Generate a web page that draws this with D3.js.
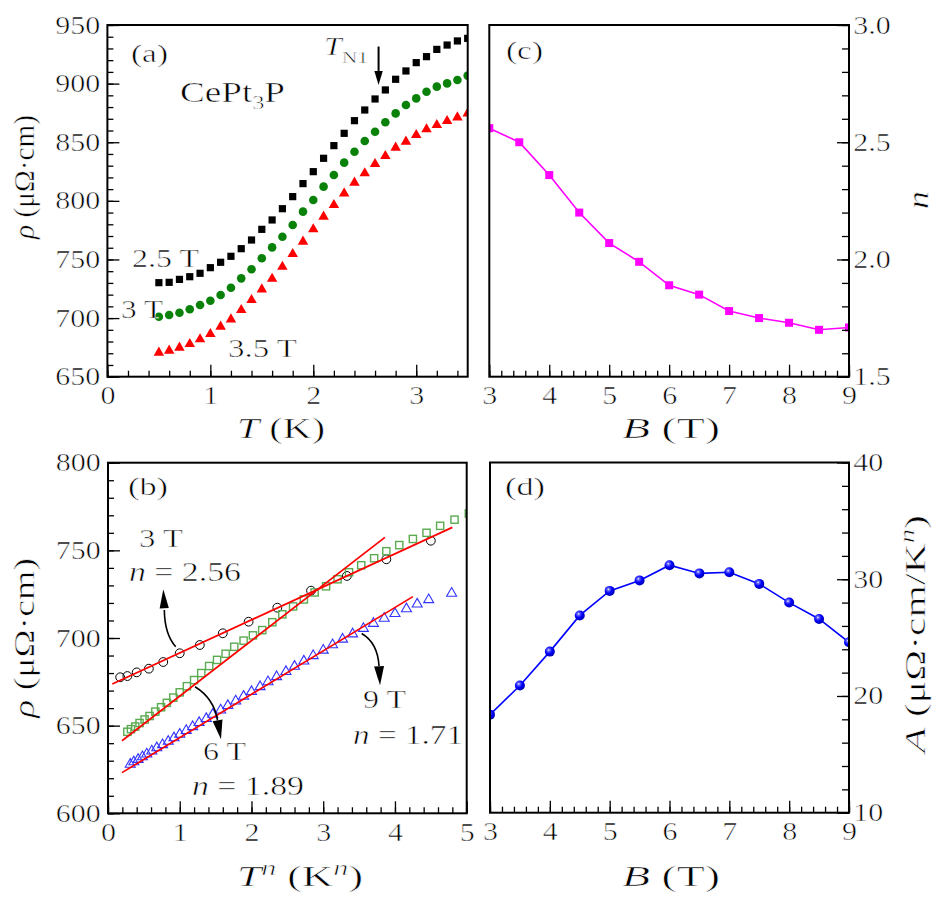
<!DOCTYPE html>
<html><head><meta charset="utf-8">
<script src="https://cdn.jsdelivr.net/npm/d3@7"></script>
<style>
body{margin:0;background:#fff}
svg{display:block}
text{font-family:'Liberation Serif','Times New Roman',serif;font-weight:400;fill:#000;stroke:#fff;stroke-width:0.55px}
</style>
</head><body><script>
// ---------------- DATA ----------------
// (a) rho vs T at 2.5, 3, 3.5 T
const tempA = [0.5,0.6,0.7,0.8,0.9,1.0,1.1,1.2,1.3,1.4,1.5,1.6,1.7,1.8,1.9,2.0,2.1,2.2,2.3,2.4,2.5,2.6,2.7,2.8,2.9,3.0,3.1,3.2,3.3,3.4,3.5];
const rho25T = [730.2,730.5,733.0,735.3,738.2,743.0,747.6,752.7,759.2,766.6,775.7,783.7,793.3,803.6,814.7,824.9,836.3,847.1,857.6,868.4,877.5,886.9,894.6,903.7,910.8,917.9,923.0,929.2,932.9,936.4,938.6];
const rho3T = [701.2,702.6,704.6,707.5,711.1,714.8,719.7,725.9,733.9,741.6,751.0,760.3,769.4,779.4,790.8,800.7,812.1,822.0,832.6,841.9,851.0,859.0,867.0,874.6,881.8,887.4,893.1,897.4,900.2,903.1,906.8];
const rho35T = [670.5,672.2,674.8,677.9,681.9,686.4,692.7,698.9,706.9,715.4,724.5,733.6,743.8,754.7,765.2,775.7,786.5,796.5,806.4,815.5,823.5,831.4,838.3,845.4,850.5,856.2,861.0,864.7,868.1,871.2,874.6];

// (b) rho vs T^n
const tn3 = [0.17,0.27,0.40,0.57,0.77,1.00,1.28,1.60,1.96,2.36,2.83,3.33,3.88,4.50];
const rhoN3 = [677.6,678.3,680.4,682.5,686.3,691.3,696.0,702.7,709.3,717.3,727.0,735.4,744.9,755.5];
const tn6 = [0.27,0.32,0.38,0.44,0.51,0.58,0.66,0.74,0.82,0.91,1.00,1.10,1.20,1.30,1.41,1.52,1.64,1.76,1.89,2.02,2.15,2.29,2.43,2.58,2.73,2.88,3.04,3.20,3.36,3.53,3.71,3.88,4.06,4.25,4.44,4.63,4.83,5.03];
const rhoN6 = [646.5,648.0,649.5,651.5,653.5,655.5,658.0,660.5,663.0,666.0,669.0,672.5,676.0,680.0,684.0,687.5,691.0,695.0,698.5,701.5,704.5,709.0,713.5,718.0,722.0,726.0,729.5,733.5,737.5,741.5,745.5,749.5,753.0,756.5,760.0,764.0,767.5,771.0];
const tn9 = [0.31,0.36,0.42,0.48,0.54,0.61,0.68,0.76,0.84,0.92,1.00,1.09,1.18,1.27,1.37,1.46,1.57,1.67,1.78,1.89,2.00,2.12,2.23,2.35,2.48,2.60,2.73,2.86,3.00,3.13,3.27,3.41,3.56,3.70,3.85,4.00,4.16,4.31,4.47,4.79,5.12];
const rhoN9 = [627.9,629.3,630.7,632.2,633.8,635.5,637.3,639.1,641.0,643.0,645.0,647.2,649.4,651.7,654.0,656.4,658.9,661.4,664.0,666.7,669.4,672.2,675.0,677.9,680.8,683.8,686.8,689.9,693.0,696.1,699.3,702.3,705.4,708.3,711.2,713.9,716.6,719.3,721.8,725.5,728.5];
const fitX3 = [0.06,4.80], fitY3 = [673.8,763.1];
const fitX6 = [0.195,3.86], fitY6 = [641.4,757.4];
const fitX9 = [0.195,4.25], fitY9 = [623.2,723.6];

// (c), (d) vs field
const fieldB = [3,3.5,4,4.5,5,5.5,6,6.5,7,7.5,8,8.5,9];
const nExp = [2.56,2.50,2.36,2.20,2.07,1.99,1.89,1.85,1.78,1.75,1.73,1.70,1.71];
const coefA = [18.4,20.9,23.8,26.9,29.0,29.9,31.2,30.5,30.6,29.6,28.0,26.6,24.6];

// tick labels
const ticksTa = [0,1,2,3], ticksRhoA = [650,700,750,800,850,900,950];
const ticksTn = [0,1,2,3,4,5], ticksRhoB = [600,650,700,750,800];
const ticksB = [3,4,5,6,7,8,9], ticksN = [1.5,2.0,2.5,3.0], ticksA = [10,20,30,40];

// ---------------- SETUP ----------------
const W = 946, H = 905;
const svg = d3.select('body').append('svg').attr('width', W).attr('height', H);
const defs = svg.append('defs');
const grad = defs.append('radialGradient').attr('id','ballBlue').attr('cx','38%').attr('cy','35%').attr('r','65%');
grad.append('stop').attr('offset','0%').attr('stop-color','#ffffff');
grad.append('stop').attr('offset','18%').attr('stop-color','#6a6aff');
grad.append('stop').attr('offset','55%').attr('stop-color','#0000ff');
grad.append('stop').attr('offset','100%').attr('stop-color','#0000b4');

const TSCALE = 1.2;
function addText(parent, o) {
  const rot = o.rotate ? ` rotate(${o.rotate})` : '';
  const t = parent.append('text').attr('font-size', o.size || 25).attr('text-anchor', o.anchor || 'start')
    .attr('transform', `translate(${o.x},${o.y})${rot} scale(${TSCALE},1)`);
  let shift = 0;
  o.parts.forEach(p => {
    const s = t.append('tspan').text(p.t);
    if (p.it) s.attr('font-style', 'italic');
    if (p.size) s.attr('font-size', p.size);
    const want = p.dy || 0;
    s.attr('dy', want - shift); shift = want;
    if (p.dx) s.attr('dx', p.dx);
  });
  if (o.len) t.attr('textLength', o.len / TSCALE).attr('lengthAdjust', 'spacingAndGlyphs');
  return t;
}

function makePanel(id, P, xd, yd) {
  const x = d3.scaleLinear().domain(xd).range([P.x0, P.x1]);
  const y = d3.scaleLinear().domain(yd).range([P.y1, P.y0]);
  defs.append('clipPath').attr('id', 'clip' + id).append('rect')
    .attr('x', P.x0).attr('y', P.y0).attr('width', P.x1 - P.x0).attr('height', P.y1 - P.y0);
  const g = svg.append('g');
  const data = g.append('g').attr('clip-path', `url(#clip${id})`);
  return {x, y, g, data, P};
}

function styleTicks(sel) {
  sel.select('.domain').remove();
  sel.selectAll('line').attr('stroke', '#000').attr('stroke-width', 1.3);
  sel.selectAll('text').attr('font-size', 25).attr('fill', '#000')
    .attr('transform', `scale(${TSCALE},1)`);
}

function axes(p, o) {
  const {x, y, g, P} = p;
  const bx = g.append('g').attr('transform', `translate(0,${P.y1})`);
  bx.append('g').call(d3.axisBottom(x).tickValues(o.xMinor).tickSize(-6).tickFormat('')).call(styleTicks);
  bx.append('g').call(d3.axisBottom(x).tickValues(o.xMajor).tickSize(-12).tickPadding(10).tickFormat(o.xFmt)).call(styleTicks);
  if (o.side === 'left') {
    const ly = g.append('g').attr('transform', `translate(${P.x0},0)`);
    ly.append('g').call(d3.axisLeft(y).tickValues(o.yMinor).tickSize(-6).tickFormat('')).call(styleTicks);
    ly.append('g').call(d3.axisLeft(y).tickValues(o.yMajor).tickSize(-12).tickPadding(6).tickFormat(o.yFmt)).call(styleTicks);
  } else {
    const ry = g.append('g').attr('transform', `translate(${P.x1},0)`);
    ry.append('g').call(d3.axisRight(y).tickValues(o.yMinor).tickSize(-7).tickFormat('')).call(styleTicks);
    ry.append('g').call(d3.axisRight(y).tickValues(o.yMajor).tickSize(-12).tickPadding(3.6).tickFormat(o.yFmt)).call(styleTicks);
  }
  g.append('rect').attr('x', P.x0).attr('y', P.y0).attr('width', P.x1 - P.x0).attr('height', P.y1 - P.y0)
    .attr('fill', 'none').attr('stroke', '#000').attr('stroke-width', 2);
}

function triPath(s) { const h = s * Math.sqrt(3) / 2; return `M0,${-2*h/3}L${s/2},${h/3}L${-s/2},${h/3}Z`; }

function arrow(g, pts, tip, hw, hl) {
  g.append('path').attr('d', `M${pts[0]}C${pts[1]} ${pts[2]} ${pts[3]}`).attr('fill', 'none').attr('stroke', '#000').attr('stroke-width', 1.6);
  const [ex, ey] = pts[3], [tx, ty] = tip;
  const ang = Math.atan2(ty - ey, tx - ex);
  const bx = tx - hl * Math.cos(ang), by = ty - hl * Math.sin(ang);
  const nx = -Math.sin(ang) * hw, ny = Math.cos(ang) * hw;
  g.append('path').attr('d', `M${tx},${ty}L${bx + nx},${by + ny}L${bx - nx},${by - ny}Z`).attr('fill', '#000');
}

const range = (a, b, s) => d3.range(Math.round((b - a) / s) + 1).map(i => +(a + i * s).toFixed(4));

// ---------------- PANEL (a) ----------------
const pa = makePanel('a', {x0:107.4, x1:467.7, y0:25, y1:376.7}, [0, 3.5], [650, 950]);
pa.data.selectAll('.sq').data(tempA).join('rect')
  .attr('x', d => pa.x(d) - 3.6).attr('y', (d, i) => pa.y(rho25T[i]) - 3.6)
  .attr('width', 7.2).attr('height', 7.2).attr('fill', '#000');
pa.data.selectAll('.ci').data(tempA).join('circle')
  .attr('cx', d => pa.x(d)).attr('cy', (d, i) => pa.y(rho3T[i])).attr('r', 4.3).attr('fill', '#0a820a');
pa.data.selectAll('.tr').data(tempA).join('path')
  .attr('d', triPath(10.5)).attr('transform', (d, i) => `translate(${pa.x(d)},${pa.y(rho35T[i])})`).attr('fill', '#ff0000');
axes(pa, {xMajor: ticksTa, xMinor: range(0, 3.4, 0.2), xFmt: d3.format('d'),
  yMajor: ticksRhoA, yMinor: range(650, 950, 10), yFmt: d3.format('d'), side: 'left'});
{
  const ax = pa.x(2.634);
  pa.g.append('line').attr('x1', ax).attr('x2', ax).attr('y1', pa.y(931.5)).attr('y2', pa.y(906)).attr('stroke', '#000').attr('stroke-width', 1.6);
  arrow(pa.g, [[ax, pa.y(931.5)], [ax, pa.y(920)], [ax, pa.y(912)], [ax, pa.y(911)]], [ax, pa.y(898.8)], 4.2, 14);
}
addText(pa.g, {x:131, y:61.5, size:26, len:37, parts:[{t:'(a)'}]});
addText(pa.g, {x:324, y:55, size:25, len:44, parts:[{t:'T', it:true}, {t:'N1', size:17, dy:8}]});
addText(pa.g, {x:180, y:102, size:29, len:105, parts:[{t:'CePt'}, {t:'3', size:19, dy:7}, {t:'P', dy:0}]});
addText(pa.g, {x:132, y:267, size:25, len:67, parts:[{t:'2.5 T'}]});
addText(pa.g, {x:121, y:318, size:25, len:42, parts:[{t:'3 T'}]});
addText(pa.g, {x:228, y:357, size:25, len:69, parts:[{t:'3.5 T'}]});
addText(svg, {x:237, y:438, size:29, len:88, parts:[{t:'T', it:true}, {t:' (K)'}]});
addText(svg, {x:34, y:177, size:29, len:124, anchor:'middle', rotate:-90, parts:[{t:'ρ', it:true}, {t:' (μΩ·cm)'}]});

// ---------------- PANEL (c) ----------------
const pc = makePanel('c', {x0:489.3, x1:849, y0:25, y1:376.7}, [3, 9], [1.5, 3.0]);
pc.data.append('path').datum(fieldB)
  .attr('d', d3.line().x(d => pc.x(d)).y((d, i) => pc.y(nExp[i])))
  .attr('fill', 'none').attr('stroke', '#ff00ff').attr('stroke-width', 1.6);
pc.data.selectAll('.sq').data(fieldB).join('rect')
  .attr('x', d => pc.x(d) - 4).attr('y', (d, i) => pc.y(nExp[i]) - 4).attr('width', 8).attr('height', 8).attr('fill', '#ff00ff');
axes(pc, {xMajor: ticksB, xMinor: range(3, 9, 0.2), xFmt: d3.format('d'),
  yMajor: ticksN, yMinor: range(1.5, 3.0, 0.1), yFmt: d3.format('.1f'), side: 'right'});
addText(pc.g, {x:506, y:59, size:26, len:37, parts:[{t:'(c)'}]});
addText(svg, {x:671, y:438, size:29, len:98, anchor:'middle', parts:[{t:'B', it:true}, {t:'  (T)'}]});
addText(svg, {x:928, y:200, size:30, anchor:'middle', rotate:-90, parts:[{t:'n', it:true}]});

// ---------------- PANEL (b) ----------------
const pb = makePanel('b', {x0:108, x1:466.7, y0:462.7, y1:813.3}, [0, 5], [600, 800]);
pb.data.selectAll('.ci').data(tn3).join('circle')
  .attr('cx', d => pb.x(d)).attr('cy', (d, i) => pb.y(rhoN3[i])).attr('r', 4.4)
  .attr('fill', 'none').attr('stroke', '#000').attr('stroke-width', 1);
pb.data.selectAll('.sq').data(tn6).join('rect')
  .attr('x', d => pb.x(d) - 3.6).attr('y', (d, i) => pb.y(rhoN6[i]) - 3.6).attr('width', 7.2).attr('height', 7.2)
  .attr('fill', 'none').attr('stroke', '#5aaa50').attr('stroke-width', 1.4);
pb.data.selectAll('.tr').data(tn9).join('path')
  .attr('d', triPath(10)).attr('transform', (d, i) => `translate(${pb.x(d)},${pb.y(rhoN9[i])})`)
  .attr('fill', 'none').attr('stroke', '#3333ff').attr('stroke-width', 1.1);
[[fitX3, fitY3], [fitX6, fitY6], [fitX9, fitY9]].forEach(([fx, fy]) => {
  pb.data.append('path').datum(fx).attr('d', d3.line().x(d => pb.x(d)).y((d, i) => pb.y(fy[i])))
    .attr('fill', 'none').attr('stroke', '#ff0000').attr('stroke-width', 1.7);
});
axes(pb, {xMajor: ticksTn, xMinor: range(0, 5, 0.2), xFmt: d3.format('d'),
  yMajor: ticksRhoB, yMinor: range(600, 800, 10), yFmt: d3.format('d'), side: 'left'});
const P = (a, b) => [pb.x(a), pb.y(b)];
arrow(pb.g, [P(0.944, 695.0), P(0.836, 700.0), P(0.788, 707.4), P(0.785, 716.0)], P(0.771, 727.8), 4.6, 19);
arrow(pb.g, [P(1.213, 672.2), P(1.380, 668.0), P(1.492, 661.7), P(1.527, 653.0)], P(1.575, 642.3), 5, 19);
arrow(pb.g, [P(3.536, 702.6), P(3.680, 699.2), P(3.764, 693.5), P(3.778, 684.0)], P(3.792, 673.0), 5, 19);
addText(pb.g, {x:128, y:495, size:26, len:40, parts:[{t:'(b)'}]});
addText(pb.g, {x:139, y:547, size:25, len:44, parts:[{t:'3 T'}]});
addText(pb.g, {x:129, y:581, size:27, len:112, parts:[{t:'n', it:true}, {t:' = 2.56'}]});
addText(pb.g, {x:203, y:760, size:25, len:43, parts:[{t:'6 T'}]});
addText(pb.g, {x:192, y:795, size:27, len:112, parts:[{t:'n', it:true}, {t:' = 1.89'}]});
addText(pb.g, {x:363, y:708, size:25, len:43, parts:[{t:'9 T'}]});
addText(pb.g, {x:353, y:744, size:27, len:110, parts:[{t:'n', it:true}, {t:' = 1.71'}]});
addText(svg, {x:237, y:886, size:29, len:126, parts:[{t:'T', it:true}, {t:'n', it:true, size:20, dy:-11}, {t:' (K', dy:0}, {t:'n', it:true, size:20, dy:-11}, {t:')', dy:0}]});
addText(svg, {x:34, y:638, size:29, len:160, anchor:'middle', rotate:-90, parts:[{t:'ρ', it:true}, {t:' (μΩ·cm)'}]});

// ---------------- PANEL (d) ----------------
const pd = makePanel('d', {x0:490, x1:849, y0:462.5, y1:812.7}, [3, 9], [10, 40]);
pd.data.append('path').datum(fieldB)
  .attr('d', d3.line().x(d => pd.x(d)).y((d, i) => pd.y(coefA[i])))
  .attr('fill', 'none').attr('stroke', '#0000ff').attr('stroke-width', 1.6);
pd.data.selectAll('.ci').data(fieldB).join('circle')
  .attr('cx', d => pd.x(d)).attr('cy', (d, i) => pd.y(coefA[i])).attr('r', 5).attr('fill', 'url(#ballBlue)');
axes(pd, {xMajor: ticksB, xMinor: range(3, 9, 0.2), xFmt: d3.format('d'),
  yMajor: ticksA, yMinor: range(10, 40, 2), yFmt: d3.format('d'), side: 'right'});
addText(pd.g, {x:505, y:495, size:26, len:40, parts:[{t:'(d)'}]});
addText(svg, {x:671, y:886, size:29, len:98, anchor:'middle', parts:[{t:'B', it:true}, {t:'  (T)'}]});
addText(svg, {x:925, y:634, size:29, len:238, anchor:'middle', rotate:-90,
  parts:[{t:'A', it:true}, {t:' (μΩ·cm/K'}, {t:'n', it:true, size:20, dy:-11}, {t:')', dy:0}]});
</script></body></html>
